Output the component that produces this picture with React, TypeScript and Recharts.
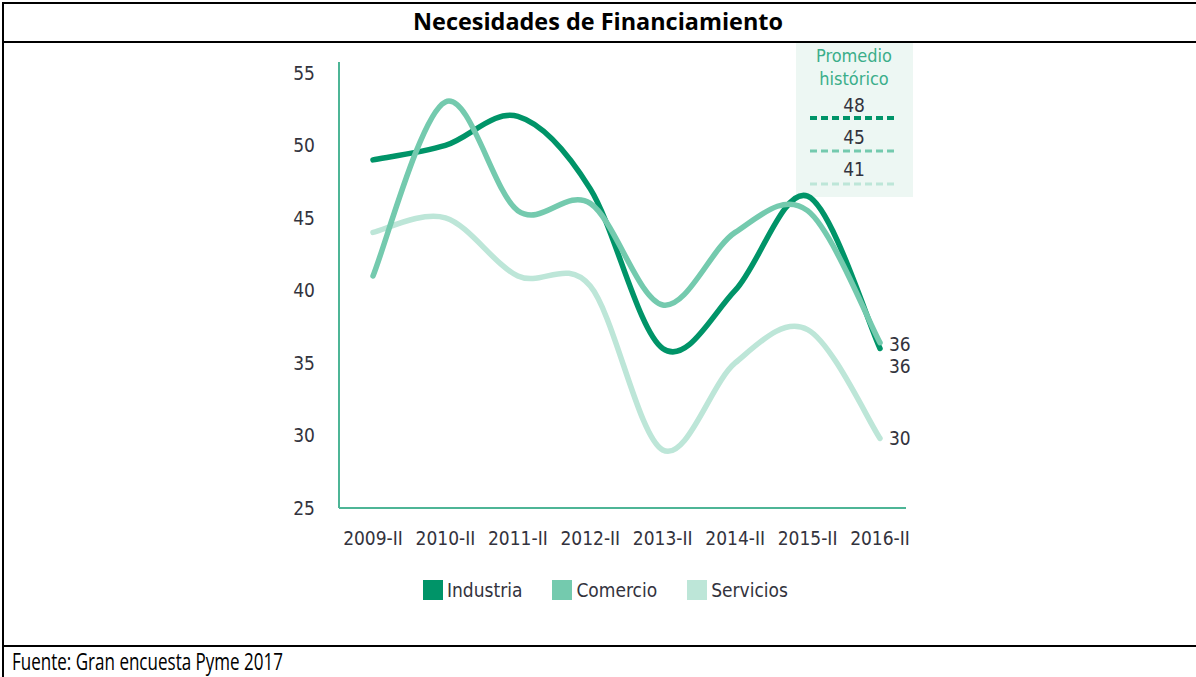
import React from 'react';
import { LineChart, Line, XAxis, YAxis, LabelList } from 'recharts';

const categories = ['2009-II', '2010-II', '2011-II', '2012-II', '2013-II', '2014-II', '2015-II', '2016-II'];
const industria = [49, 50, 52, 47, 36, 40, 46.5, 36];
const comercio = [41, 53, 45.5, 46, 39, 44, 45.5, 36.4];
const servicios = [44, 45, 41, 40.3, 29, 35, 37.3, 29.8];
const yTicks = [25, 30, 35, 40, 45, 50, 55];
const seriesNames = ['Industria', 'Comercio', 'Servicios'];
const seriesColors = ['#009468', '#74caae', '#bde6d8'];
const promedios = [48, 45, 41];
const title = 'Necesidades de Financiamiento';
const source = 'Fuente: Gran encuesta Pyme 2017';
const promedioTitle = ['Promedio', 'histórico'];

const data = categories.map((cat, i) => ({
  cat,
  Industria: industria[i],
  Comercio: comercio[i],
  Servicios: servicios[i],
}));

const FONT = '"DejaVu Sans Condensed", "DejaVu Sans", sans-serif';
const TXT = '#33333d';
const AXIS = '#4db596';

// Excel-like smoothed line (Catmull-Rom as cubic Bezier)
const excelCurve: any = (context: any) => {
  let pts: number[][] = [];
  return {
    areaStart() {},
    areaEnd() {},
    lineStart() {
      pts = [];
    },
    point(x: number, y: number) {
      pts.push([+x, +y]);
    },
    lineEnd() {
      const n = pts.length;
      if (!n) return;
      context.moveTo(pts[0][0], pts[0][1]);
      const k = 1 / 6;
      for (let i = 0; i < n - 1; i++) {
        const p0 = pts[i > 0 ? i - 1 : i];
        const p1 = pts[i];
        const p2 = pts[i + 1];
        const p3 = pts[i + 2 < n ? i + 2 : i + 1];
        context.bezierCurveTo(
          p1[0] + (p2[0] - p0[0]) * k,
          p1[1] + (p2[1] - p0[1]) * k,
          p2[0] - (p3[0] - p1[0]) * k,
          p2[1] - (p3[1] - p1[1]) * k,
          p2[0],
          p2[1]
        );
      }
    },
  };
};

const endLabel = (dy: number) => (props: any) => {
  const { x, y, value, index } = props;
  if (index !== categories.length - 1) return null;
  return (
    <text
      x={Number(x) + 9}
      y={Number(y) + dy}
      fontSize={19}
      fontFamily={FONT}
      fill={TXT}
      dominantBaseline="middle"
    >
      {Math.round(Number(value))}
    </text>
  );
};

const endOffsets: Record<string, number> = { Industria: -3, Comercio: 25, Servicios: 1 };

const LegendBlock = () => (
  <div
    style={{
      position: 'absolute',
      left: 423,
      top: 580,
      display: 'flex',
      alignItems: 'center',
      gap: 30,
      fontFamily: FONT,
      fontSize: 19,
      color: TXT,
    }}
  >
    {seriesNames.map((name, i) => (
      <div key={name} style={{ display: 'flex', alignItems: 'center' }}>
        <div style={{ width: 20, height: 20, background: seriesColors[i], marginRight: 4 }} />
        <span style={{ lineHeight: '20px' }}>{name}</span>
      </div>
    ))}
  </div>
);

export default function App() {
  const order = [2, 0, 1];
  return (
    <div style={{ position: 'absolute', left: 0, top: 0, width: 1196, height: 677, background: '#fff', overflow: 'hidden' }}>
      <svg width={1196} height={677} style={{ position: 'absolute', left: 0, top: 0 }}>
        <rect x={0} y={0} width={1196} height={677} fill="#fff" />
        <rect x={2} y={2} width={1194} height={2} fill="#000" />
        <rect x={2} y={2} width={2} height={675} fill="#000" />
        <rect x={2} y={41} width={1194} height={2} fill="#000" />
        <rect x={2} y={645} width={1194} height={2} fill="#000" />
        <text
          x={413}
          y={30}
          fontFamily='"Open Sans", sans-serif'
          fontWeight={700}
          fontSize={23}
          textLength={370}
          lengthAdjust="spacingAndGlyphs"
          fill="#000"
        >
          {title}
        </text>
        <text
          x={12}
          y={670}
          fontFamily='"Open Sans", sans-serif'
          fontSize={23}
          textLength={271}
          lengthAdjust="spacingAndGlyphs"
          fill="#000"
        >
          {source}
        </text>
        <rect x={796} y={43} width={117} height={154} fill="#edf7f3" />
        {promedioTitle.map((t, i) => (
          <text
            key={t}
            x={854}
            y={57 + i * 23}
            textAnchor="middle"
            dominantBaseline="middle"
            fontFamily={FONT}
            fontSize={18}
            fill="#3bae8a"
          >
            {t}
          </text>
        ))}
        {promedios.map((v, i) => (
          <g key={i}>
            <text
              x={854}
              y={106 + i * 32}
              textAnchor="middle"
              dominantBaseline="middle"
              fontFamily={FONT}
              fontSize={19}
              fill={TXT}
            >
              {v}
            </text>
            <line
              x1={810}
              x2={898}
              y1={118 + i * 33}
              y2={118 + i * 33}
              stroke={seriesColors[i]}
              strokeWidth={i === 0 ? 4 : 3}
              strokeDasharray="7 4"
            />
          </g>
        ))}
      </svg>
      <div style={{ position: 'absolute', left: 0, top: 0 }}>
        <LineChart
          width={1196}
          height={677}
          data={data}
          margin={{ top: 62, right: 290, left: 250, bottom: 139 }}
        >
          <XAxis
            dataKey="cat"
            interval={0}
            padding={{ left: 34, right: 26 }}
            axisLine={{ stroke: AXIS, strokeWidth: 2 }}
            tickLine={false}
            tickSize={0}
            tickMargin={24}
            height={30}
            tick={{ fontSize: 19, fontFamily: FONT, fill: TXT }}
          />
          <YAxis
            type="number"
            domain={[25, 55.75]}
            ticks={yTicks}
            interval={0}
            width={89}
            axisLine={{ stroke: AXIS, strokeWidth: 2 }}
            tickLine={false}
            tickSize={0}
            tickMargin={24}
            tick={{ fontSize: 19, fontFamily: FONT, fill: TXT }}
          />
          {order.map((i) => (
            <Line
              key={seriesNames[i]}
              dataKey={seriesNames[i]}
              type={excelCurve}
              stroke={seriesColors[i]}
              strokeWidth={5.5}
              strokeLinecap="round"
              strokeLinejoin="round"
              dot={false}
              activeDot={false}
              isAnimationActive={false}
            >
              <LabelList dataKey={seriesNames[i]} content={endLabel(endOffsets[seriesNames[i]])} />
            </Line>
          ))}
        </LineChart>
      </div>
      <LegendBlock />
    </div>
  );
}
